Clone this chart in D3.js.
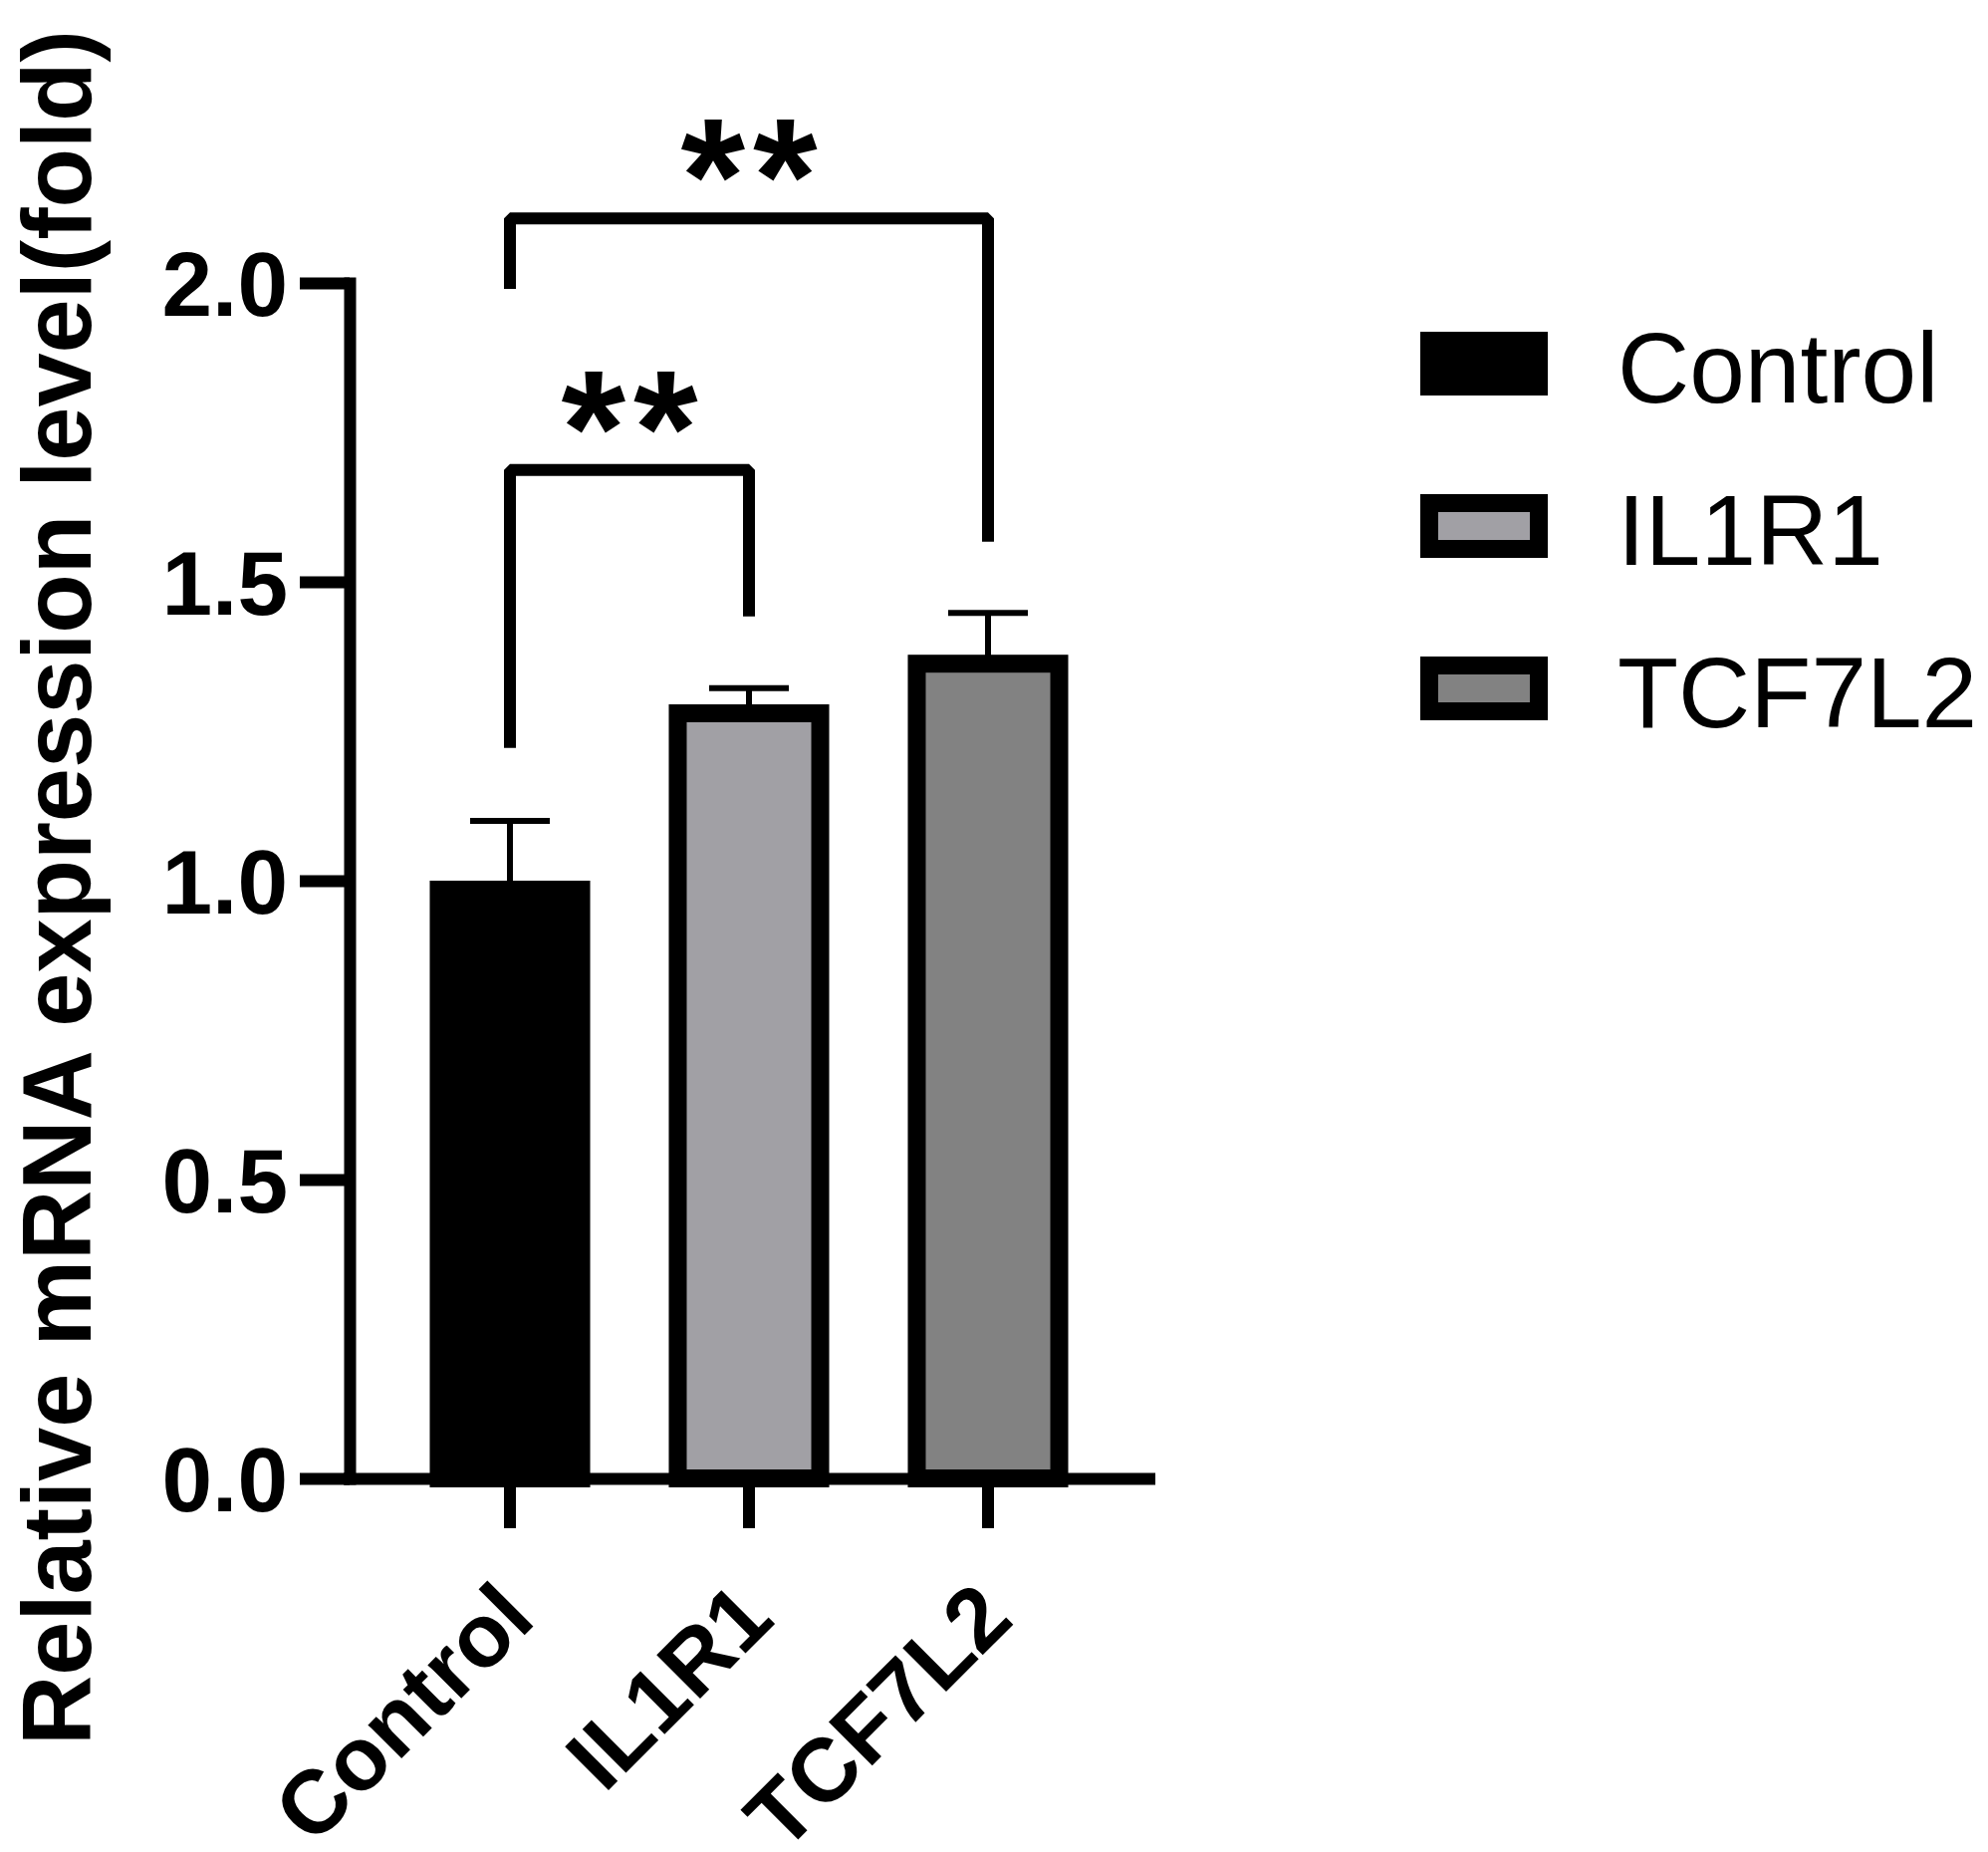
<!DOCTYPE html>
<html>
<head>
<meta charset="utf-8">
<script src="https://cdn.jsdelivr.net/npm/d3@7"></script>
<style>
  html, body { margin: 0; padding: 0; background: #fff; }
  svg { display: block; }
</style>
</head>
<body>
<div id="chart"></div>
<script>
// Relative mRNA expression bar chart (Prism-style), mean + SEM with significance brackets

// ── data ──
const groups = ["Control", "IL1R1", "TCF7L2"];
const means = [1.0, 1.295, 1.378];
const sems = [0.1, 0.027, 0.07];
const yTicks = [0, 0.5, 1.0, 1.5, 2.0];
// significance comparisons: bracket top level and where each leg stops (data units)
const comparisons = [
  { a: "Control", b: "TCF7L2", label: "**", top: 2.108, legA: 1.99, legB: 1.567 },
  { a: "Control", b: "IL1R1", label: "**", top: 1.687, legA: 1.222, legB: 1.442 },
];
const yTitle = "Relative mRNA expression level(fold)";

(() => {
  const W = 1996, H = 1859;
  const FONT = "'Liberation Sans', Arial, Helvetica, sans-serif";
  const FILL = { Control: "#000000", IL1R1: "#a1a0a5", TCF7L2: "#828282" };
  const AX = 12, BAR_STROKE = 18, ERR = 6;

  const svg = d3.select("#chart").append("svg")
    .attr("width", W).attr("height", H)
    .attr("viewBox", `0 0 ${W} ${H}`)
    .style("background", "#fff");

  const x = d3.scaleBand().domain(groups)
    .range([350.5, 1153.5]).paddingInner(0.404).paddingOuter(0.375);
  const y = d3.scaleLinear().domain([0, 2]).range([1484, 284]);
  const cx = g => x(g) + x.bandwidth() / 2;

  // ── bars (outer edge of the thick stroke sits on the value) ──
  svg.append("g").selectAll("rect")
    .data(groups.map((g, i) => ({ g, v: means[i] })))
    .join("rect")
    .attr("x", d => x(d.g))
    .attr("width", x.bandwidth())
    .attr("y", d => y(d.v) + BAR_STROKE / 2)
    .attr("height", d => y(0) - y(d.v) - BAR_STROKE / 2)
    .attr("fill", d => FILL[d.g])
    .attr("stroke", "#000")
    .attr("stroke-width", BAR_STROKE);

  // ── error bars (upper SEM only) ──
  const eg = svg.append("g").attr("stroke", "#000").attr("stroke-width", ERR);
  groups.forEach((g, i) => {
    const top = y(means[i] + sems[i]);
    eg.append("line")
      .attr("x1", cx(g)).attr("x2", cx(g))
      .attr("y1", y(means[i]) + 2).attr("y2", top);
    eg.append("line")
      .attr("x1", cx(g) - 40).attr("x2", cx(g) + 40)
      .attr("y1", top).attr("y2", top);
  });

  // ── axes ──
  const yAxis = svg.append("g")
    .attr("transform", `translate(351,0)`)
    .call(d3.axisLeft(y).tickValues(yTicks).tickFormat(d3.format(".1f"))
      .tickSize(50).tickSizeOuter(0).tickPadding(12));
  const xAxis = svg.append("g")
    .attr("transform", `translate(0,${y(0)})`)
    .call(d3.axisBottom(x).tickSize(50).tickSizeOuter(0));

  [yAxis, xAxis].forEach(a => {
    a.select(".domain").attr("stroke", "#000").attr("stroke-width", AX)
      .attr("stroke-linecap", "square");
    a.selectAll(".tick line").attr("stroke", "#000").attr("stroke-width", AX);
  });

  yAxis.selectAll(".tick text")
    .attr("dy", "0.36em")
    .attr("fill", "#000")
    .attr("style", `font:bold 91px ${FONT}`);

  // rotated category labels, ending just past each tick
  xAxis.selectAll(".tick text").remove();
  groups.forEach(g => {
    svg.append("text")
      .attr("transform", `translate(${cx(g) + 28},1628) rotate(-45)`)
      .attr("text-anchor", "end")
      .attr("style", `font:bold 90px ${FONT};fill:#000`)
      .text(g);
  });

  // ── y title ──
  svg.append("text")
    .attr("transform", "translate(91,1752) rotate(-90)")
    .attr("text-anchor", "start")
    .attr("textLength", 1722)
    .attr("lengthAdjust", "spacingAndGlyphs")
    .attr("style", `font:bold 99px ${FONT};fill:#000`)
    .text(yTitle);

  // ── significance brackets ──
  const bg = svg.append("g");
  comparisons.forEach(c => {
    const xa = cx(c.a), xb = cx(c.b), yt = y(c.top);
    bg.append("path")
      .attr("d", `M${xa},${y(c.legA)} V${yt} H${xb} V${y(c.legB)}`)
      .attr("fill", "none").attr("stroke", "#000")
      .attr("stroke-width", AX).attr("stroke-linejoin", "bevel");
    // letter-spacing trails the last star too, so nudge right by half of it
    bg.append("text")
      .attr("x", (xa + xb) / 2 + 4).attr("y", yt + 15)
      .attr("text-anchor", "middle")
      .attr("letter-spacing", 8)
      .attr("style", `font:bold 166px ${FONT};fill:#000`)
      .text(c.label);
  });

  // ── legend ──
  const lg = svg.append("g");
  groups.forEach((g, i) => {
    const cy = 365 + i * 163;
    lg.append("rect")
      .attr("x", 1426 + BAR_STROKE / 2).attr("y", cy - 32 + BAR_STROKE / 2)
      .attr("width", 128 - BAR_STROKE).attr("height", 64 - BAR_STROKE)
      .attr("fill", FILL[g]).attr("stroke", "#000").attr("stroke-width", BAR_STROKE);
    lg.append("text")
      .attr("x", 1624).attr("y", cy + 39)
      .attr("style", `font:100px ${FONT};fill:#000`)
      .text(g);
  });
})();
</script>
</body>
</html>
